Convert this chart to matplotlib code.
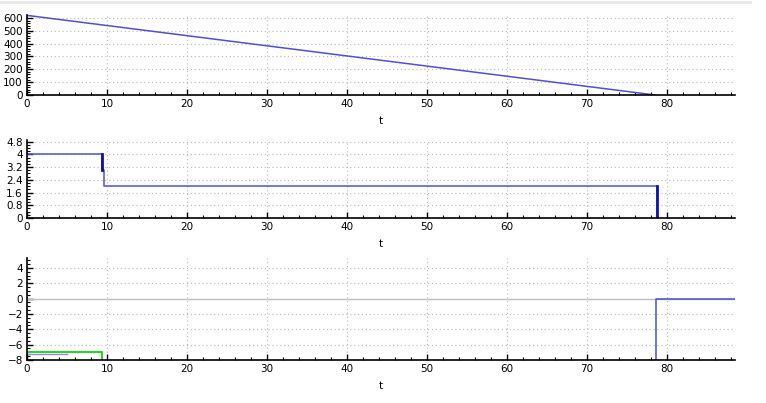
import matplotlib
matplotlib.use("Agg")
import matplotlib.pyplot as plt
from matplotlib.ticker import MultipleLocator
import numpy as np

# panel 1: linear decrease
t1 = [0, 78.5]
y1 = [620, 0]

# panel 2: step signal
t2 = [0, 9.4, 9.4, 9.6, 9.6, 78.8, 78.8]
y2 = [4, 4, 3, 3, 2, 2, 0]

# panel 3: green and blue traces
t3_green = [0, 9.4, 9.4]
y3_green = [-7.0, -7.0, -8.5]
t3_blue_a = [0, 5]
y3_blue_a = [-7.2, -7.2]
t3_blue_b = [78.6, 78.6, 88.5]
y3_blue_b = [-8.5, 0, 0]

W, H = 766, 403
fig = plt.figure(figsize=(W / 100, H / 100), dpi=100)
plt.rcParams['font.family'] = ['DejaVu Sans']

blue = '#5050d0'
grid_kw = dict(color='#b8b8b8', linestyle=(0, (1, 2.5)), linewidth=0.8)


def make_ax(left, bottom, right, top):
    ax = fig.add_axes([left / W, bottom / H, (right - left) / W, (top - bottom) / H])
    for s in ('top', 'right'):
        ax.spines[s].set_visible(False)
    ax.spines['left'].set_linewidth(1.2)
    ax.spines['bottom'].set_linewidth(1.2)
    ax.tick_params(direction='in', labelsize=7.5, length=4, width=1, pad=3)
    ax.tick_params(which='minor', direction='in', length=2.5, width=0.8)
    ax.set_xlim(0, 88.5)
    ax.xaxis.set_major_locator(MultipleLocator(10))
    ax.xaxis.set_minor_locator(MultipleLocator(2))
    ax.grid(True, which='major', **grid_kw)
    ax.set_xlabel('t', fontsize=7.5, labelpad=5)
    return ax


# top panel
ax1 = make_ax(27, 308, 735, 388)
ax1.plot(t1, y1, color=blue, lw=1.1)
ax1.set_ylim(0, 623)
ax1.yaxis.set_major_locator(MultipleLocator(100))
ax1.yaxis.set_minor_locator(MultipleLocator(20))

# middle panel
ax2 = make_ax(27, 185, 735, 263)
ax2.plot(t2, y2, color=blue, lw=1.1)
ax2.plot([9.4, 9.4], [3, 4], color='#1010a0', lw=2)
ax2.plot([78.8, 78.8], [0, 2], color='#1010c0', lw=2)
ax2.set_ylim(0, 4.9)
ax2.set_yticks([0, 0.8, 1.6, 2.4, 3.2, 4, 4.8])
ax2.set_yticklabels(['0', '0.8', '1.6', '2.4', '3.2', '4', '4.8'])
ax2.yaxis.set_minor_locator(MultipleLocator(0.2))

# bottom panel
ax3 = make_ax(27, 43, 735, 145)
ax3.axhline(0, color='#c0c0c0', lw=1)
ax3.plot(t3_green, y3_green, color='#30d030', lw=1.5)
ax3.plot(t3_blue_a, y3_blue_a, color='#6060c0', lw=1, alpha=0.7)
ax3.plot(t3_blue_b, y3_blue_b, color=blue, lw=1.1)
ax3.set_ylim(-8, 5.3)
ax3.yaxis.set_major_locator(MultipleLocator(2))
ax3.yaxis.set_minor_locator(MultipleLocator(0.5))
ax3.set_yticks(np.arange(-8, 5, 2))

# faint separator at the very top
fig.add_artist(plt.Line2D([0, 750 / W], [1 - 1.5 / H, 1 - 1.5 / H],
                          color='#e8e8e8', lw=2))

fig.savefig('out.png', dpi=100)
